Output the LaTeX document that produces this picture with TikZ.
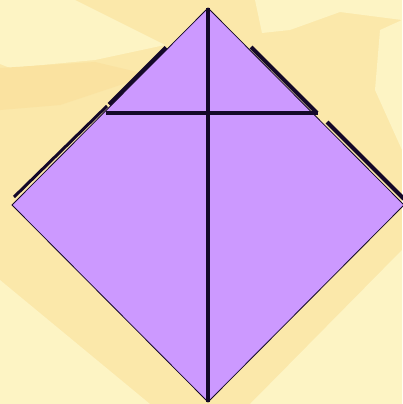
\documentclass[tikz,border=0pt]{standalone}
\definecolor{bgbase}{RGB}{251,232,170}
\definecolor{bglight}{RGB}{253,244,196}
\definecolor{bgmid}{RGB}{250,226,160}
\definecolor{kite}{RGB}{204,153,255}
\definecolor{ink}{RGB}{20,8,40}
\begin{document}
\begin{tikzpicture}[x=1pt,y=-1pt,
  edge/.style={draw=ink,line width=0.8pt},
  fold/.style={draw=ink,line width=3.4pt},
  thick edge/.style={draw=ink,line width=4.2pt},
  thin edge/.style={draw=ink,line width=3pt}]
\fill[bgbase] (0,0) rectangle (402,404);
\useasboundingbox (0,0) rectangle (402,404);
% background texture
\fill[bglight] (0,0) -- (75,0) -- (125,25) -- (165,45) -- (95,60) -- (10,68) -- (0,64) -- cycle;
\fill[bgmid] (0,68) -- (95,62) -- (150,75) -- (60,105) -- (0,110) -- cycle;
\fill[bglight] (255,0) -- (402,0) -- (402,20) -- (340,12) -- (290,30) -- (262,33) -- cycle;
\fill[bglight] (380,30) -- (402,20) -- (402,150) -- (375,90) -- cycle;
\fill[bglight] (0,280) -- (150,404) -- (0,404) -- cycle;
\fill[bglight] (250,404) -- (402,250) -- (402,404) -- cycle;
% diamond
\coordinate (T) at (208,8);
\coordinate (L) at (12,205);
\coordinate (B) at (208,402);
\coordinate (R) at (404,205);
\filldraw[fill=kite,edge] (T) -- (R) -- (B) -- (L) -- cycle;
% folds
\coordinate (HL) at (106,113);
\coordinate (HR) at (318,113);
\draw[fold] (T) -- (B);
\draw[fold] (HL) -- (HR);
% thick edges along the upper sides
\coordinate (a1) at (166,47.5);
\coordinate (a2) at (109,104.5);
\coordinate (b1) at (107,106);
\coordinate (b2) at (14,197);
\coordinate (c1) at (251,47);
\coordinate (c2) at (317,113);
\coordinate (d1) at (327,122);
\coordinate (d2) at (404,199);
\draw[thick edge] (a1) -- (a2);
\draw[thin edge] (b1) -- (b2);
\draw[thick edge] (c1) -- (c2);
\draw[thick edge] (d1) -- (d2);
\end{tikzpicture}
\end{document}
